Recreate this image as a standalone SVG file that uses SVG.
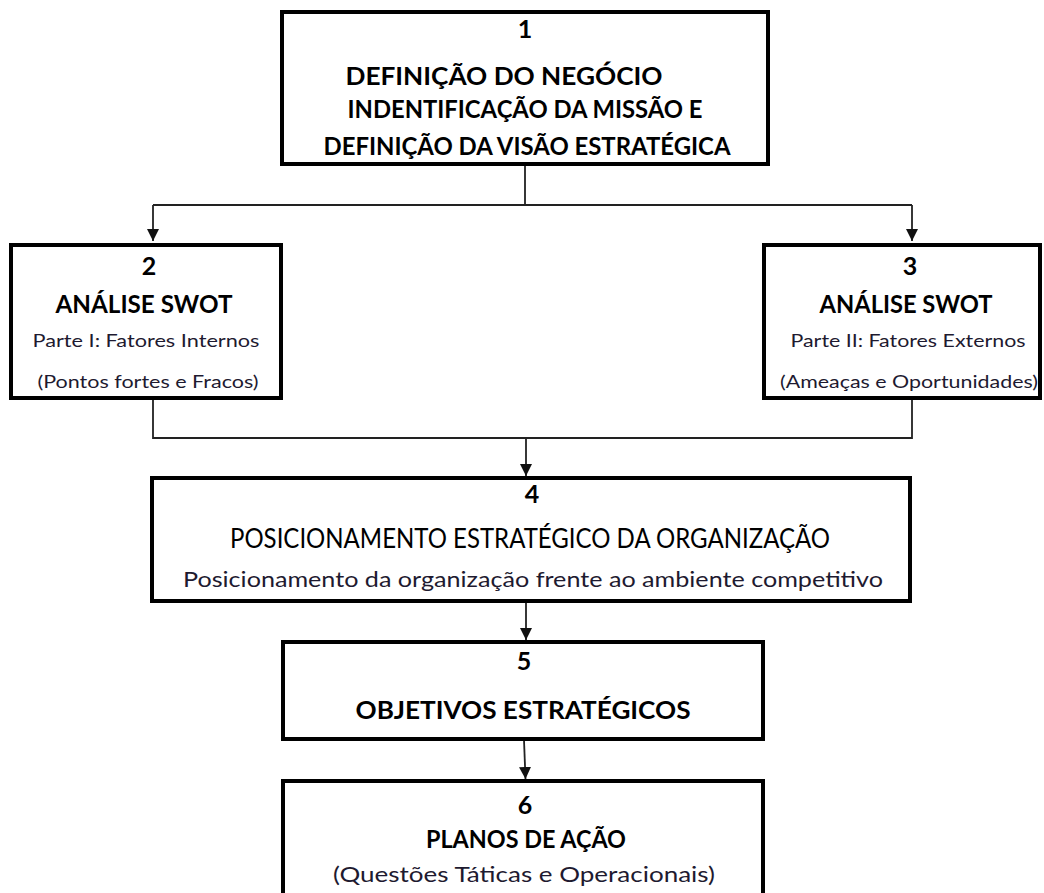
<svg xmlns="http://www.w3.org/2000/svg" width="1044" height="893" viewBox="0 0 1044 893">
<style>
.box{fill:#fff;stroke:#000;stroke-width:4}
.con{fill:none;stroke:#222;stroke-width:1.8}
text{font-family:Lato,"Open Sans","Liberation Sans",sans-serif;text-anchor:middle;fill:#000}
.b{font-weight:bold;font-size:25px}
.r{font-size:17px;fill:#1e1a30}
.m{font-size:21px;fill:#1e1a30}
.h{font-size:26px}
</style>
<defs>
<marker id="arr" markerUnits="userSpaceOnUse" markerWidth="14" markerHeight="14" refX="12" refY="6" orient="auto">
<path d="M0,0 L12,6 L0,12 z" fill="#111"/>
</marker>
</defs>
<rect width="1044" height="893" fill="#fff"/>
<g id="connectors">
<path class="con" d="M525 166 V205 M153 205 H912"/>
<path class="con" d="M153 205 V241" marker-end="url(#arr)"/>
<path class="con" d="M912 205 V241" marker-end="url(#arr)"/>
<path class="con" d="M153 400 V438 H912 V400"/>
<path class="con" d="M526 438 V476" marker-end="url(#arr)"/>
<path class="con" d="M526 603 V640" marker-end="url(#arr)"/>
<path class="con" d="M524 740 L525.5 779" marker-end="url(#arr)"/>
</g>
<g id="node1">
<rect class="box" x="282" y="12" width="486" height="152"/>
<text class="b" x="525" y="38">1</text>
<text class="b" x="504" y="85" textLength="317" lengthAdjust="spacingAndGlyphs">DEFINIÇÃO DO NEGÓCIO</text>
<text class="b" x="525" y="118" textLength="355" lengthAdjust="spacingAndGlyphs">INDENTIFICAÇÃO DA MISSÃO E</text>
<text class="b" x="527" y="155" textLength="407" lengthAdjust="spacingAndGlyphs">DEFINIÇÃO DA VISÃO ESTRATÉGICA</text>
</g>
<g id="node2">
<rect class="box" x="11" y="245" width="270" height="153"/>
<text class="b" x="149" y="275">2</text>
<text class="b" x="144" y="313" textLength="177" lengthAdjust="spacingAndGlyphs">ANÁLISE SWOT</text>
<text class="r" x="146" y="347" textLength="227" lengthAdjust="spacingAndGlyphs">Parte I: Fatores Internos</text>
<text class="r" x="148" y="388" textLength="221" lengthAdjust="spacingAndGlyphs">(Pontos fortes e Fracos)</text>
</g>
<g id="node3">
<rect class="box" x="764" y="245" width="276" height="153"/>
<text class="b" x="910" y="275">3</text>
<text class="b" x="906" y="313" textLength="173" lengthAdjust="spacingAndGlyphs">ANÁLISE SWOT</text>
<text class="r" x="908" y="347" textLength="235" lengthAdjust="spacingAndGlyphs">Parte II: Fatores Externos</text>
<text class="r" x="909" y="388" textLength="258" lengthAdjust="spacingAndGlyphs">(Ameaças e Oportunidades)</text>
</g>
<g id="node4">
<rect class="box" x="152" y="478" width="758" height="123"/>
<text class="b" x="532" y="503">4</text>
<text class="h" x="530" y="548" textLength="600" lengthAdjust="spacingAndGlyphs">POSICIONAMENTO ESTRATÉGICO DA ORGANIZAÇÃO</text>
<text class="m" x="533" y="587" textLength="700" lengthAdjust="spacingAndGlyphs">Posicionamento da organização frente ao ambiente competitivo</text>
</g>
<g id="node5">
<rect class="box" x="283" y="642" width="480" height="97"/>
<text class="b" x="524" y="670">5</text>
<text class="b" x="523" y="719" textLength="335" lengthAdjust="spacingAndGlyphs">OBJETIVOS ESTRATÉGICOS</text>
</g>
<g id="node6">
<rect class="box" x="283" y="781" width="480" height="130"/>
<text class="b" x="525" y="814">6</text>
<text class="b" x="526" y="848" textLength="200" lengthAdjust="spacingAndGlyphs">PLANOS DE AÇÃO</text>
<text class="m" x="524" y="882" textLength="382" lengthAdjust="spacingAndGlyphs">(Questões Táticas e Operacionais)</text>
</g>
</svg>
